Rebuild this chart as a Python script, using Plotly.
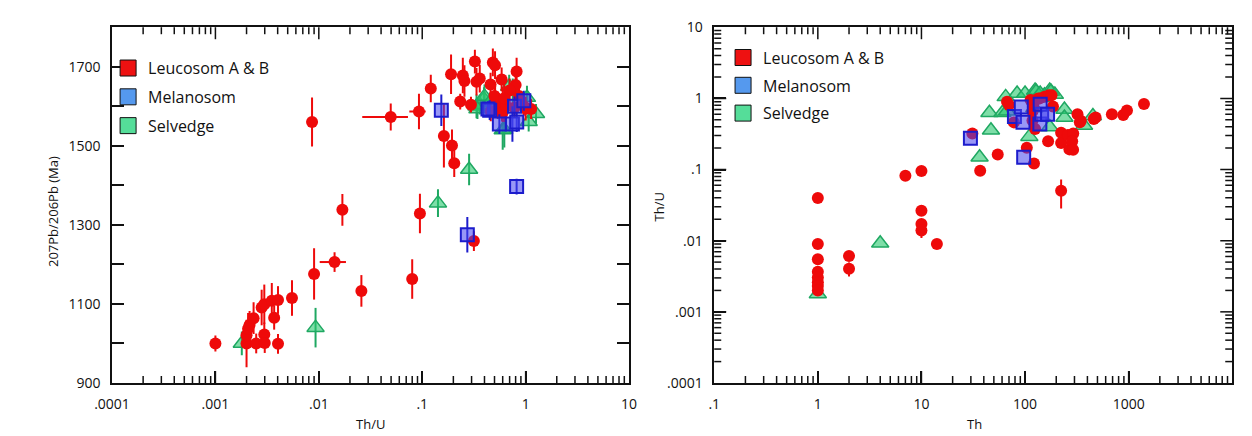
import plotly.graph_objects as go

# ---------------- Left panel: Th/U vs 207Pb/206Pb age ----------------
leuco_thu = [0.001, 0.002, 0.002, 0.00207, 0.00214, 0.00234, 0.00248, 0.0028, 0.00297, 0.00297,
             0.003, 0.00351, 0.0037, 0.00403, 0.00403, 0.0055, 0.0086, 0.009, 0.0142, 0.0169,
             0.0258, 0.0496, 0.08, 0.093, 0.095, 0.121, 0.162, 0.19, 0.194, 0.204,
             0.233, 0.247, 0.256, 0.296, 0.316, 0.323, 0.335, 0.36, 0.458, 0.482,
             0.506, 0.46, 0.507, 0.537, 0.586, 0.59, 0.6, 0.6, 0.818, 0.8,
             0.863, 0.96, 0.78, 1.13, 0.54, 0.5, 0.65, 1.0, 0.7, 0.62]
leuco_age = [1000, 1000, 1021, 1037, 1047, 1064, 1000, 1091, 1099, 1023,
             1001, 1108, 1065, 1110, 999, 1115, 1560, 1176, 1206, 1338,
             1133, 1573, 1163, 1587, 1329, 1645, 1525, 1681, 1501, 1456,
             1612, 1678, 1664, 1604, 1259, 1713, 1662, 1670, 1655, 1711,
             1704, 1587, 1622, 1593, 1668, 1587, 1618, 1585, 1688, 1654,
             1626, 1601, 1597, 1593, 1612, 1626, 1600, 1594, 1640, 1620]
leuco_age_err = [20, 60, 25, 40, 35, 40, 25, 45, 50, 30,
                 25, 45, 30, 35, 25, 45, 62, 65, 25, 40,
                 40, 34, 50, 45, 50, 35, 80, 50, 40, 35,
                 20, 45, 40, 20, 25, 30, 35, 35, 30, 35,
                 35, 25, 30, 25, 30, 25, 30, 25, 35, 30,
                 30, 25, 25, 25, 25, 25, 30, 30, 30, 60]
leuco_thu_err_minus = [0] * 60
leuco_thu_err_plus = [0] * 60
leuco_thu_err_minus[18], leuco_thu_err_plus[18] = 0.0040, 0.0041
leuco_thu_err_minus[21], leuco_thu_err_plus[21] = 0.0233, 0.0232
leuco_thu_err_minus[23], leuco_thu_err_plus[23] = 0.018, 0.015

mela_thu = [0.153, 0.273, 0.818, 0.449, 0.557, 0.745, 0.78, 0.82, 0.96, 0.432]
mela_age = [1590, 1275, 1397, 1590, 1555, 1555, 1600, 1560, 1614, 1593]
mela_age_err = [40, 45, 20, 25, 25, 45, 25, 25, 25, 20]

selv_thu = [0.0018, 0.0093, 0.142, 0.284, 0.335, 0.36, 0.396, 0.4, 0.342, 0.6,
            0.622, 0.693, 0.75, 1.03, 1.07, 1.26, 0.45]
selv_age = [1000, 1040, 1355, 1440, 1600, 1604, 1618, 1625, 1593, 1540,
            1541, 1650, 1640, 1622, 1561, 1581, 1610]
selv_age_err = [30, 50, 35, 40, 30, 25, 30, 30, 25, 50,
                45, 30, 30, 30, 25, 25, 25]

# ---------------- Right panel: Th vs Th/U ----------------
leuco_th = [1, 1, 1, 1, 1, 1, 1, 1, 2, 2,
            7.0, 10, 10, 10, 10, 14.1, 31, 36.9, 54.5, 67,
            70, 78, 104, 122, 125, 113, 134, 154, 118, 118,
            121, 121, 139, 170, 180, 186, 167, 223, 223, 223,
            259, 268, 292, 285, 291, 321, 345, 338, 461, 480,
            689, 887, 963, 1406]
leuco_th_u = [0.0397, 0.009, 0.0055, 0.00365, 0.00303, 0.0026, 0.0023, 0.002, 0.0061, 0.00404,
              0.0819, 0.0955, 0.0264, 0.0171, 0.0139, 0.009, 0.32, 0.096, 0.163, 0.9,
              0.81, 0.46, 0.202, 0.122, 0.37, 0.95, 1.0, 1.05, 0.66, 0.49,
              0.734, 0.87, 1.0, 1.11, 1.11, 0.771, 0.249, 0.0504, 0.329, 0.236,
              0.305, 0.192, 0.322, 0.25, 0.19, 0.597, 0.485, 0.462, 0.512, 0.54,
              0.597, 0.585, 0.676, 0.831]
leuco_th_u_err = [0] * len(leuco_th_u)
leuco_th_u_err[9] = 0.0009
leuco_th_u_err[11] = 0.01
leuco_th_u_err[14] = 0.003
leuco_th_u_err[37] = 0.022

mela_th = [29.7, 79, 92, 95.5, 97, 139, 144.6, 140, 165]
mela_th_u = [0.276, 0.556, 0.757, 0.462, 0.149, 0.438, 0.597, 0.83, 0.6]

selv_th = [1, 4, 36.4, 46.9, 45.3, 60.5, 65, 67, 83.8, 100,
           110, 123, 125, 153, 173, 173, 178, 154, 240, 240,
           371, 452, 128, 140, 194]
selv_th_u = [0.00178, 0.0092, 0.149, 0.356, 0.629, 0.629, 1.05, 0.66, 1.17, 1.17,
             0.29, 0.734, 1.29, 1.02, 1.29, 0.396, 1.25, 1.11, 0.697, 0.539,
             0.416, 0.566, 1.25, 1.17, 1.13]

groups = ["Leucosom A & B", "Melanosom", "Selvedge"]
legend_fill = ["#ee1111", "#5599ee", "#55dd99"]

RED = "#ee0a0a"
BLUE_LINE = "#1c1ccc"
BLUE_FILL = "rgba(68,68,238,0.55)"
GREEN_LINE = "#1fa862"
GREEN_FILL = "rgba(40,200,110,0.6)"
AXIS = "#111"

FONT = "Open Sans"

fig = go.Figure()


def err(arr, color):
    return dict(type="data", array=arr, color=color, thickness=2, width=0, visible=True)


# Left panel traces (selvedge beneath, melanosom on top)
fig.add_trace(go.Scatter(
    x=selv_thu, y=selv_age, mode="markers", xaxis="x", yaxis="y", showlegend=False,
    marker=dict(symbol="triangle-up", size=15, color=GREEN_FILL, line=dict(color=GREEN_LINE, width=1.5)),
    error_y=err(selv_age_err, GREEN_LINE)))
fig.add_trace(go.Scatter(
    x=leuco_thu, y=leuco_age, mode="markers", xaxis="x", yaxis="y", showlegend=False,
    marker=dict(symbol="circle", size=12, color=RED, line=dict(width=0)),
    error_y=err(leuco_age_err, RED),
    error_x=dict(type="data", array=leuco_thu_err_plus, arrayminus=leuco_thu_err_minus,
                 symmetric=False, color=RED, thickness=2, width=0, visible=True)))
fig.add_trace(go.Scatter(
    x=mela_thu, y=mela_age, mode="markers", xaxis="x", yaxis="y", showlegend=False,
    marker=dict(symbol="square", size=13, color=BLUE_FILL, line=dict(color=BLUE_LINE, width=2)),
    error_y=err(mela_age_err, BLUE_LINE)))

# Right panel traces
fig.add_trace(go.Scatter(
    x=selv_th, y=selv_th_u, mode="markers", xaxis="x2", yaxis="y2", showlegend=False,
    marker=dict(symbol="triangle-up", size=15, color=GREEN_FILL, line=dict(color=GREEN_LINE, width=1.5))))
fig.add_trace(go.Scatter(
    x=leuco_th, y=leuco_th_u, mode="markers", xaxis="x2", yaxis="y2", showlegend=False,
    marker=dict(symbol="circle", size=12, color=RED, line=dict(width=0)),
    error_y=err(leuco_th_u_err, RED)))
fig.add_trace(go.Scatter(
    x=mela_th, y=mela_th_u, mode="markers", xaxis="x2", yaxis="y2", showlegend=False,
    marker=dict(symbol="square", size=13, color=BLUE_FILL, line=dict(color=BLUE_LINE, width=2))))

# Legend entries for both panels
for leg in ("legend", "legend2"):
    for i, (name, col) in enumerate(zip(groups, legend_fill)):
        fig.add_trace(go.Scatter(
            x=[None], y=[None], mode="markers", name=name, legend=leg,
            legendgroup=f"{leg}_{i}", xaxis="x" if leg == "legend" else "x2",
            yaxis="y" if leg == "legend" else "y2",
            marker=dict(symbol="square", size=16, color=col, line=dict(color=AXIS, width=1))))

W, H = 1252, 436
L_X0, L_X1 = 96, 624
R_X0, R_X1 = 711, 1240
P_Y0, P_Y1 = 18, 390
MAJOR_LEN, MINOR_LEN = 12, 7


def px_x(p):
    return p / W


def px_y(p):
    return 1 - p / H


def decades(lo, hi):
    return [10.0 ** e for e in range(lo, hi + 1)]


def sub_decades(lo, hi):
    out = []
    for e in range(lo, hi):
        out += [m * 10.0 ** e for m in range(2, 10)]
    return out


def x_ticks(xref, yref, vals, length):
    """Inward tick marks along the bottom and top edges of a log x axis (pixel-sized)."""
    out = []
    for v in vals:
        for anchor, y0, y1 in ((0, 0, length), (1, 0, -length)):
            out.append(dict(type="line", xref=xref, yref=yref, ysizemode="pixel", yanchor=anchor,
                            x0=v, x1=v, y0=y0, y1=y1,
                            line=dict(color=AXIS, width=1.5), layer="above"))
    return out


def y_ticks(xref, yref, vals, length):
    """Inward tick marks along the left and right edges of a log y axis (pixel-sized)."""
    out = []
    for v in vals:
        for anchor, x0, x1 in ((0, 0, length), (1, 0, -length)):
            out.append(dict(type="line", xref=xref, yref=yref, xsizemode="pixel", xanchor=anchor,
                            y0=v, y1=v, x0=x0, x1=x1,
                            line=dict(color=AXIS, width=1.5), layer="above"))
    return out


shapes = []
shapes += x_ticks("x", "paper", decades(-3, 0), MAJOR_LEN)
shapes += x_ticks("x", "paper", sub_decades(-4, 1), MINOR_LEN)
shapes += x_ticks("x2", "paper", decades(0, 3), MAJOR_LEN)
shapes += x_ticks("x2", "paper", sub_decades(-1, 4), MINOR_LEN)
shapes += y_ticks("paper", "y2", decades(-3, 0), MAJOR_LEN)
shapes += y_ticks("paper", "y2", sub_decades(-4, 1), MINOR_LEN)
# place the pixel-sized ticks on the plot edges
for s in shapes:
    if s.get("ysizemode") == "pixel":
        s["yanchor"] = px_y(P_Y1) if s["yanchor"] == 0 else px_y(P_Y0)
    else:
        left = s["xref"] == "paper"
        s["xanchor"] = px_x(R_X0) if s["xanchor"] == 0 else px_x(R_X1)

axis_common = dict(
    showline=True, linecolor=AXIS, linewidth=1.5, mirror=True,
    ticks="inside", ticklen=MAJOR_LEN, tickwidth=1.5, tickcolor=AXIS,
    showgrid=False, zeroline=False, ticklabelstandoff=7,
    tickfont=dict(family=FONT, size=14, color=AXIS),
)

dec_text_l = [".0001", ".001", ".01", ".1", "1", "10"]
dec_text_r = [".1", "1", "10", "100", "1000", "10000"]
dec_text_ry = [".0001", ".001", ".01", ".1", "1", "10"]
age_vals = list(range(900, 1801, 100))
age_text = [str(v) if v % 200 == 100 else "" for v in age_vals]

fig.update_layout(
    width=W, height=H, margin=dict(l=0, r=0, t=0, b=0),
    paper_bgcolor="white", plot_bgcolor="white",
    font=dict(family=FONT, color=AXIS),
    xaxis=dict(axis_common, type="log", range=[-4, 1], domain=[px_x(L_X0), px_x(L_X1)],
               tickmode="array", tickvals=decades(-4, 1), ticktext=dec_text_l, anchor="y"),
    yaxis=dict(axis_common, range=[900, 1800], domain=[px_y(P_Y1), px_y(P_Y0)],
               mirror="allticks",
               tickmode="array", tickvals=age_vals, ticktext=age_text, anchor="x"),
    xaxis2=dict(axis_common, type="log", range=[-1, 4], domain=[px_x(R_X0), px_x(R_X1)],
                tickmode="array", tickvals=decades(-1, 4), ticktext=dec_text_r, anchor="y2"),
    yaxis2=dict(axis_common, type="log", range=[-4, 1], domain=[px_y(P_Y1), px_y(P_Y0)],
                tickmode="array", tickvals=decades(-4, 1), ticktext=dec_text_ry, anchor="x2"),
    shapes=shapes,
    legend=dict(x=px_x(92), y=px_y(43), xanchor="left", yanchor="top",
                font=dict(family=FONT, size=16, color=AXIS), bgcolor="rgba(0,0,0,0)",
                tracegroupgap=5, itemwidth=30),
    legend2=dict(x=px_x(720), y=px_y(32), xanchor="left", yanchor="top",
                 font=dict(family=FONT, size=16, color=AXIS), bgcolor="rgba(0,0,0,0)",
                 tracegroupgap=4, itemwidth=30),
    annotations=[
        dict(text="Th/U", x=px_x(360), y=px_y(433), xref="paper", yref="paper",
             xanchor="center", yanchor="middle", showarrow=False, font=dict(family=FONT, size=13)),
        dict(text="207Pb/206Pb (Ma)", x=px_x(36), y=px_y(211), xref="paper", yref="paper",
             xanchor="center", yanchor="middle",
             textangle=-90, showarrow=False, font=dict(family=FONT, size=13)),
        dict(text="Th", x=px_x(977), y=px_y(433), xref="paper", yref="paper",
             xanchor="center", yanchor="middle", showarrow=False, font=dict(family=FONT, size=13)),
        dict(text="Th/U", x=px_x(655), y=px_y(206), xref="paper", yref="paper",
             xanchor="center", yanchor="middle",
             textangle=-90, showarrow=False, font=dict(family=FONT, size=13)),
    ],
)

fig.write_html("out.html")
